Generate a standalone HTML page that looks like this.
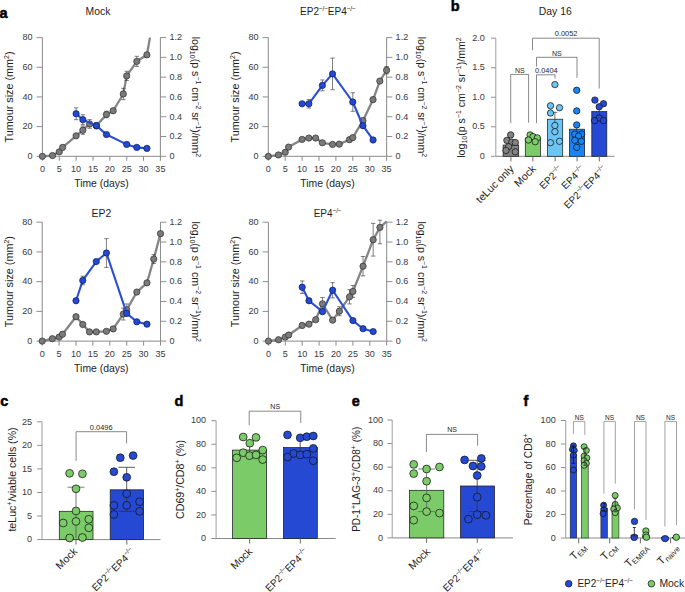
<!DOCTYPE html>
<html><head><meta charset="utf-8"><style>
html,body{margin:0;padding:0;background:#fff;overflow:hidden;}
svg{display:block;font-family:"Liberation Sans", sans-serif;}
</style></head><body>
<svg width="685" height="592" viewBox="0 0 685 592">
<rect width="685" height="592" fill="#fff"/>
<text x="-0.4" y="17.8" font-size="14.5" font-weight="bold" fill="#000" stroke="#000" stroke-width="0.5">a</text>
<text x="450.8" y="11" font-size="14.5" font-weight="bold" fill="#000" stroke="#000" stroke-width="0.5">b</text>
<text x="0.3" y="405.7" font-size="14.5" font-weight="bold" fill="#000" stroke="#000" stroke-width="0.5">c</text>
<text x="174.5" y="405.5" font-size="14.5" font-weight="bold" fill="#000" stroke="#000" stroke-width="0.5">d</text>
<text x="351.8" y="405.5" font-size="14.5" font-weight="bold" fill="#000" stroke="#000" stroke-width="0.5">e</text>
<text x="523.5" y="405.5" font-size="14.5" font-weight="bold" fill="#000" stroke="#000" stroke-width="0.5">f</text>
<text x="98.00" y="15.20" font-size="10.4" text-anchor="middle" fill="#1e1e1e">Mock</text>
<line x1="42.40" y1="37.60" x2="42.40" y2="156.30" stroke="#8e8e8e" stroke-width="1.05" />
<line x1="160.40" y1="37.60" x2="160.40" y2="156.30" stroke="#8e8e8e" stroke-width="1.05" />
<line x1="42.40" y1="156.30" x2="160.40" y2="156.30" stroke="#a2a2a2" stroke-width="1.2" />
<line x1="36.60" y1="156.30" x2="42.40" y2="156.30" stroke="#8e8e8e" stroke-width="1.0" />
<text x="0" y="0" font-size="8.8" text-anchor="end" fill="#3a3a3a" font-weight="normal" transform="translate(32.60 159.10) scale(1.03 1)" >0</text>
<line x1="36.60" y1="126.62" x2="42.40" y2="126.62" stroke="#8e8e8e" stroke-width="1.0" />
<text x="0" y="0" font-size="8.8" text-anchor="end" fill="#3a3a3a" font-weight="normal" transform="translate(32.60 129.43) scale(1.03 1)" >20</text>
<line x1="36.60" y1="96.95" x2="42.40" y2="96.95" stroke="#8e8e8e" stroke-width="1.0" />
<text x="0" y="0" font-size="8.8" text-anchor="end" fill="#3a3a3a" font-weight="normal" transform="translate(32.60 99.75) scale(1.03 1)" >40</text>
<line x1="36.60" y1="67.28" x2="42.40" y2="67.28" stroke="#8e8e8e" stroke-width="1.0" />
<text x="0" y="0" font-size="8.8" text-anchor="end" fill="#3a3a3a" font-weight="normal" transform="translate(32.60 70.08) scale(1.03 1)" >60</text>
<line x1="36.60" y1="37.60" x2="42.40" y2="37.60" stroke="#8e8e8e" stroke-width="1.0" />
<text x="0" y="0" font-size="8.8" text-anchor="end" fill="#3a3a3a" font-weight="normal" transform="translate(32.60 40.40) scale(1.03 1)" >80</text>
<line x1="160.40" y1="156.30" x2="166.20" y2="156.30" stroke="#8e8e8e" stroke-width="1.0" />
<text x="0" y="0" font-size="8.8" text-anchor="start" fill="#3a3a3a" font-weight="normal" transform="translate(169.40 159.10) scale(1.03 1)" >0</text>
<line x1="160.40" y1="136.52" x2="166.20" y2="136.52" stroke="#8e8e8e" stroke-width="1.0" />
<text x="0" y="0" font-size="8.8" text-anchor="start" fill="#3a3a3a" font-weight="normal" transform="translate(169.40 139.32) scale(1.03 1)" >0.2</text>
<line x1="160.40" y1="116.73" x2="166.20" y2="116.73" stroke="#8e8e8e" stroke-width="1.0" />
<text x="0" y="0" font-size="8.8" text-anchor="start" fill="#3a3a3a" font-weight="normal" transform="translate(169.40 119.53) scale(1.03 1)" >0.4</text>
<line x1="160.40" y1="96.95" x2="166.20" y2="96.95" stroke="#8e8e8e" stroke-width="1.0" />
<text x="0" y="0" font-size="8.8" text-anchor="start" fill="#3a3a3a" font-weight="normal" transform="translate(169.40 99.75) scale(1.03 1)" >0.6</text>
<line x1="160.40" y1="77.17" x2="166.20" y2="77.17" stroke="#8e8e8e" stroke-width="1.0" />
<text x="0" y="0" font-size="8.8" text-anchor="start" fill="#3a3a3a" font-weight="normal" transform="translate(169.40 79.97) scale(1.03 1)" >0.8</text>
<line x1="160.40" y1="57.38" x2="166.20" y2="57.38" stroke="#8e8e8e" stroke-width="1.0" />
<text x="0" y="0" font-size="8.8" text-anchor="start" fill="#3a3a3a" font-weight="normal" transform="translate(169.40 60.18) scale(1.03 1)" >1.0</text>
<line x1="160.40" y1="37.60" x2="166.20" y2="37.60" stroke="#8e8e8e" stroke-width="1.0" />
<text x="0" y="0" font-size="8.8" text-anchor="start" fill="#3a3a3a" font-weight="normal" transform="translate(169.40 40.40) scale(1.03 1)" >1.2</text>
<line x1="42.40" y1="156.30" x2="42.40" y2="160.80" stroke="#8a8a8a" stroke-width="1.0" />
<text x="0" y="0" font-size="8.8" text-anchor="middle" fill="#3a3a3a" font-weight="normal" transform="translate(42.40 171.80) scale(1.03 1)" >0</text>
<line x1="59.26" y1="156.30" x2="59.26" y2="160.80" stroke="#8a8a8a" stroke-width="1.0" />
<text x="0" y="0" font-size="8.8" text-anchor="middle" fill="#3a3a3a" font-weight="normal" transform="translate(59.26 171.80) scale(1.03 1)" >5</text>
<line x1="76.11" y1="156.30" x2="76.11" y2="160.80" stroke="#8a8a8a" stroke-width="1.0" />
<text x="0" y="0" font-size="8.8" text-anchor="middle" fill="#3a3a3a" font-weight="normal" transform="translate(76.11 171.80) scale(1.03 1)" >10</text>
<line x1="92.97" y1="156.30" x2="92.97" y2="160.80" stroke="#8a8a8a" stroke-width="1.0" />
<text x="0" y="0" font-size="8.8" text-anchor="middle" fill="#3a3a3a" font-weight="normal" transform="translate(92.97 171.80) scale(1.03 1)" >15</text>
<line x1="109.83" y1="156.30" x2="109.83" y2="160.80" stroke="#8a8a8a" stroke-width="1.0" />
<text x="0" y="0" font-size="8.8" text-anchor="middle" fill="#3a3a3a" font-weight="normal" transform="translate(109.83 171.80) scale(1.03 1)" >20</text>
<line x1="126.69" y1="156.30" x2="126.69" y2="160.80" stroke="#8a8a8a" stroke-width="1.0" />
<text x="0" y="0" font-size="8.8" text-anchor="middle" fill="#3a3a3a" font-weight="normal" transform="translate(126.69 171.80) scale(1.03 1)" >25</text>
<line x1="143.54" y1="156.30" x2="143.54" y2="160.80" stroke="#8a8a8a" stroke-width="1.0" />
<text x="0" y="0" font-size="8.8" text-anchor="middle" fill="#3a3a3a" font-weight="normal" transform="translate(143.54 171.80) scale(1.03 1)" >30</text>
<line x1="160.40" y1="156.30" x2="160.40" y2="160.80" stroke="#8a8a8a" stroke-width="1.0" />
<text x="0" y="0" font-size="8.8" text-anchor="middle" fill="#3a3a3a" font-weight="normal" transform="translate(160.40 171.80) scale(1.03 1)" >35</text>
<text x="0" y="0" font-size="10.4" text-anchor="middle" fill="#1e1e1e" font-weight="normal" transform="translate(101.40 187.40)" >Time (days)</text>
<text x="13.10" y="96.95" font-size="10.8" text-anchor="middle" fill="#1e1e1e" transform="rotate(-90 13.10 96.95)">Tumour size (mm<tspan font-size="7.0" baseline-shift="3.6">2</tspan>)</text>
<text x="192.00" y="96.95" font-size="10.6" text-anchor="middle" fill="#1e1e1e" transform="rotate(90 192.00 96.95)">log<tspan font-size="7" baseline-shift="-2.2">10</tspan>(p s<tspan font-size="7.0" baseline-shift="3.6">−1</tspan> cm<tspan font-size="7.0" baseline-shift="3.6">−2</tspan> sr<tspan font-size="7.0" baseline-shift="3.6">−1</tspan>)/mm<tspan font-size="7.0" baseline-shift="3.6">2</tspan></text>
<polyline points="42.40,156.30 52.51,155.56 59.26,151.85 62.63,147.40 76.11,135.82 82.86,130.19 89.60,123.95 96.34,125.88 106.46,114.46 113.20,110.75 123.31,93.98 126.69,75.88 136.80,61.34 146.91,54.81 149.95,37.60" fill="none" stroke="#858585" stroke-width="2.3" stroke-linejoin="round"/>
<path d="M82.86 126.03V134.34M80.66 126.03H85.06M80.66 134.34H85.06" stroke="#3a3a3a" stroke-width="0.65" fill="none"/>
<path d="M89.60 119.65V128.26M87.40 119.65H91.80M87.40 128.26H91.80" stroke="#3a3a3a" stroke-width="0.65" fill="none"/>
<path d="M106.46 111.19V117.72M104.26 111.19H108.66M104.26 117.72H108.66" stroke="#3a3a3a" stroke-width="0.65" fill="none"/>
<path d="M123.31 88.34V99.62M121.11 88.34H125.51M121.11 99.62H125.51" stroke="#3a3a3a" stroke-width="0.65" fill="none"/>
<path d="M126.69 71.28V80.48M124.49 71.28H128.89M124.49 80.48H128.89" stroke="#3a3a3a" stroke-width="0.65" fill="none"/>
<path d="M136.80 56.30V66.38M134.60 56.30H139.00M134.60 66.38H139.00" stroke="#3a3a3a" stroke-width="0.65" fill="none"/>
<path d="M146.91 52.59V57.04M144.71 52.59H149.11M144.71 57.04H149.11" stroke="#3a3a3a" stroke-width="0.65" fill="none"/>
<circle cx="42.40" cy="156.30" r="3.15" fill="#7a7a7a" stroke="#2e2e2e" stroke-width="0.7"/>
<circle cx="52.51" cy="155.56" r="3.15" fill="#7a7a7a" stroke="#2e2e2e" stroke-width="0.7"/>
<circle cx="59.26" cy="151.85" r="3.15" fill="#7a7a7a" stroke="#2e2e2e" stroke-width="0.7"/>
<circle cx="62.63" cy="147.40" r="3.15" fill="#7a7a7a" stroke="#2e2e2e" stroke-width="0.7"/>
<circle cx="76.11" cy="135.82" r="3.15" fill="#7a7a7a" stroke="#2e2e2e" stroke-width="0.7"/>
<circle cx="82.86" cy="130.19" r="3.15" fill="#7a7a7a" stroke="#2e2e2e" stroke-width="0.7"/>
<circle cx="89.60" cy="123.95" r="3.15" fill="#7a7a7a" stroke="#2e2e2e" stroke-width="0.7"/>
<circle cx="96.34" cy="125.88" r="3.15" fill="#7a7a7a" stroke="#2e2e2e" stroke-width="0.7"/>
<circle cx="106.46" cy="114.46" r="3.15" fill="#7a7a7a" stroke="#2e2e2e" stroke-width="0.7"/>
<circle cx="113.20" cy="110.75" r="3.15" fill="#7a7a7a" stroke="#2e2e2e" stroke-width="0.7"/>
<circle cx="123.31" cy="93.98" r="3.15" fill="#7a7a7a" stroke="#2e2e2e" stroke-width="0.7"/>
<circle cx="126.69" cy="75.88" r="3.15" fill="#7a7a7a" stroke="#2e2e2e" stroke-width="0.7"/>
<circle cx="136.80" cy="61.34" r="3.15" fill="#7a7a7a" stroke="#2e2e2e" stroke-width="0.7"/>
<circle cx="146.91" cy="54.81" r="3.15" fill="#7a7a7a" stroke="#2e2e2e" stroke-width="0.7"/>
<polyline points="76.11,113.77 82.86,119.70 96.34,125.64 106.46,134.54 126.69,144.43 136.80,147.40 146.91,148.39" fill="none" stroke="#2a4fd2" stroke-width="2.1" stroke-linejoin="round"/>
<path d="M76.11 107.83V119.70M73.91 107.83H78.31M73.91 119.70H78.31" stroke="#3a3a3a" stroke-width="0.65" fill="none"/>
<path d="M82.86 114.75V124.65M80.66 114.75H85.06M80.66 124.65H85.06" stroke="#3a3a3a" stroke-width="0.65" fill="none"/>
<path d="M96.34 122.67V128.60M94.14 122.67H98.54M94.14 128.60H98.54" stroke="#3a3a3a" stroke-width="0.65" fill="none"/>
<circle cx="76.11" cy="113.77" r="3.15" fill="#2349d3" stroke="#0c1a5c" stroke-width="0.7"/>
<circle cx="82.86" cy="119.70" r="3.15" fill="#2349d3" stroke="#0c1a5c" stroke-width="0.7"/>
<circle cx="96.34" cy="125.64" r="3.15" fill="#2349d3" stroke="#0c1a5c" stroke-width="0.7"/>
<circle cx="106.46" cy="134.54" r="3.15" fill="#2349d3" stroke="#0c1a5c" stroke-width="0.7"/>
<circle cx="126.69" cy="144.43" r="3.15" fill="#2349d3" stroke="#0c1a5c" stroke-width="0.7"/>
<circle cx="136.80" cy="147.40" r="3.15" fill="#2349d3" stroke="#0c1a5c" stroke-width="0.7"/>
<circle cx="146.91" cy="148.39" r="3.15" fill="#2349d3" stroke="#0c1a5c" stroke-width="0.7"/>
<text x="327.80" y="15.20" font-size="10.4" text-anchor="middle" fill="#1e1e1e"><tspan font-size="10.0">EP2</tspan><tspan font-size="6.6" baseline-shift="4.3" letter-spacing="-0.25">−/−</tspan><tspan font-size="10.0">EP4</tspan><tspan font-size="6.6" baseline-shift="4.3" letter-spacing="-0.25">−/−</tspan></text>
<line x1="268.30" y1="37.60" x2="268.30" y2="156.30" stroke="#8e8e8e" stroke-width="1.05" />
<line x1="386.60" y1="37.60" x2="386.60" y2="156.30" stroke="#8e8e8e" stroke-width="1.05" />
<line x1="268.30" y1="156.30" x2="386.60" y2="156.30" stroke="#a2a2a2" stroke-width="1.2" />
<line x1="262.50" y1="156.30" x2="268.30" y2="156.30" stroke="#8e8e8e" stroke-width="1.0" />
<text x="0" y="0" font-size="8.8" text-anchor="end" fill="#3a3a3a" font-weight="normal" transform="translate(258.50 159.10) scale(1.03 1)" >0</text>
<line x1="262.50" y1="126.62" x2="268.30" y2="126.62" stroke="#8e8e8e" stroke-width="1.0" />
<text x="0" y="0" font-size="8.8" text-anchor="end" fill="#3a3a3a" font-weight="normal" transform="translate(258.50 129.43) scale(1.03 1)" >20</text>
<line x1="262.50" y1="96.95" x2="268.30" y2="96.95" stroke="#8e8e8e" stroke-width="1.0" />
<text x="0" y="0" font-size="8.8" text-anchor="end" fill="#3a3a3a" font-weight="normal" transform="translate(258.50 99.75) scale(1.03 1)" >40</text>
<line x1="262.50" y1="67.28" x2="268.30" y2="67.28" stroke="#8e8e8e" stroke-width="1.0" />
<text x="0" y="0" font-size="8.8" text-anchor="end" fill="#3a3a3a" font-weight="normal" transform="translate(258.50 70.08) scale(1.03 1)" >60</text>
<line x1="262.50" y1="37.60" x2="268.30" y2="37.60" stroke="#8e8e8e" stroke-width="1.0" />
<text x="0" y="0" font-size="8.8" text-anchor="end" fill="#3a3a3a" font-weight="normal" transform="translate(258.50 40.40) scale(1.03 1)" >80</text>
<line x1="386.60" y1="156.30" x2="392.40" y2="156.30" stroke="#8e8e8e" stroke-width="1.0" />
<text x="0" y="0" font-size="8.8" text-anchor="start" fill="#3a3a3a" font-weight="normal" transform="translate(395.60 159.10) scale(1.03 1)" >0</text>
<line x1="386.60" y1="136.52" x2="392.40" y2="136.52" stroke="#8e8e8e" stroke-width="1.0" />
<text x="0" y="0" font-size="8.8" text-anchor="start" fill="#3a3a3a" font-weight="normal" transform="translate(395.60 139.32) scale(1.03 1)" >0.2</text>
<line x1="386.60" y1="116.73" x2="392.40" y2="116.73" stroke="#8e8e8e" stroke-width="1.0" />
<text x="0" y="0" font-size="8.8" text-anchor="start" fill="#3a3a3a" font-weight="normal" transform="translate(395.60 119.53) scale(1.03 1)" >0.4</text>
<line x1="386.60" y1="96.95" x2="392.40" y2="96.95" stroke="#8e8e8e" stroke-width="1.0" />
<text x="0" y="0" font-size="8.8" text-anchor="start" fill="#3a3a3a" font-weight="normal" transform="translate(395.60 99.75) scale(1.03 1)" >0.6</text>
<line x1="386.60" y1="77.17" x2="392.40" y2="77.17" stroke="#8e8e8e" stroke-width="1.0" />
<text x="0" y="0" font-size="8.8" text-anchor="start" fill="#3a3a3a" font-weight="normal" transform="translate(395.60 79.97) scale(1.03 1)" >0.8</text>
<line x1="386.60" y1="57.38" x2="392.40" y2="57.38" stroke="#8e8e8e" stroke-width="1.0" />
<text x="0" y="0" font-size="8.8" text-anchor="start" fill="#3a3a3a" font-weight="normal" transform="translate(395.60 60.18) scale(1.03 1)" >1.0</text>
<line x1="386.60" y1="37.60" x2="392.40" y2="37.60" stroke="#8e8e8e" stroke-width="1.0" />
<text x="0" y="0" font-size="8.8" text-anchor="start" fill="#3a3a3a" font-weight="normal" transform="translate(395.60 40.40) scale(1.03 1)" >1.2</text>
<line x1="268.30" y1="156.30" x2="268.30" y2="160.80" stroke="#8a8a8a" stroke-width="1.0" />
<text x="0" y="0" font-size="8.8" text-anchor="middle" fill="#3a3a3a" font-weight="normal" transform="translate(268.30 171.80) scale(1.03 1)" >0</text>
<line x1="285.20" y1="156.30" x2="285.20" y2="160.80" stroke="#8a8a8a" stroke-width="1.0" />
<text x="0" y="0" font-size="8.8" text-anchor="middle" fill="#3a3a3a" font-weight="normal" transform="translate(285.20 171.80) scale(1.03 1)" >5</text>
<line x1="302.10" y1="156.30" x2="302.10" y2="160.80" stroke="#8a8a8a" stroke-width="1.0" />
<text x="0" y="0" font-size="8.8" text-anchor="middle" fill="#3a3a3a" font-weight="normal" transform="translate(302.10 171.80) scale(1.03 1)" >10</text>
<line x1="319.00" y1="156.30" x2="319.00" y2="160.80" stroke="#8a8a8a" stroke-width="1.0" />
<text x="0" y="0" font-size="8.8" text-anchor="middle" fill="#3a3a3a" font-weight="normal" transform="translate(319.00 171.80) scale(1.03 1)" >15</text>
<line x1="335.90" y1="156.30" x2="335.90" y2="160.80" stroke="#8a8a8a" stroke-width="1.0" />
<text x="0" y="0" font-size="8.8" text-anchor="middle" fill="#3a3a3a" font-weight="normal" transform="translate(335.90 171.80) scale(1.03 1)" >20</text>
<line x1="352.80" y1="156.30" x2="352.80" y2="160.80" stroke="#8a8a8a" stroke-width="1.0" />
<text x="0" y="0" font-size="8.8" text-anchor="middle" fill="#3a3a3a" font-weight="normal" transform="translate(352.80 171.80) scale(1.03 1)" >25</text>
<line x1="369.70" y1="156.30" x2="369.70" y2="160.80" stroke="#8a8a8a" stroke-width="1.0" />
<text x="0" y="0" font-size="8.8" text-anchor="middle" fill="#3a3a3a" font-weight="normal" transform="translate(369.70 171.80) scale(1.03 1)" >30</text>
<line x1="386.60" y1="156.30" x2="386.60" y2="160.80" stroke="#8a8a8a" stroke-width="1.0" />
<text x="0" y="0" font-size="8.8" text-anchor="middle" fill="#3a3a3a" font-weight="normal" transform="translate(386.60 171.80) scale(1.03 1)" >35</text>
<text x="0" y="0" font-size="10.4" text-anchor="middle" fill="#1e1e1e" font-weight="normal" transform="translate(327.45 187.40)" >Time (days)</text>
<text x="239.00" y="96.95" font-size="10.8" text-anchor="middle" fill="#1e1e1e" transform="rotate(-90 239.00 96.95)">Tumour size (mm<tspan font-size="7.0" baseline-shift="3.6">2</tspan>)</text>
<text x="418.20" y="96.95" font-size="10.6" text-anchor="middle" fill="#1e1e1e" transform="rotate(90 418.20 96.95)">log<tspan font-size="7" baseline-shift="-2.2">10</tspan>(p s<tspan font-size="7.0" baseline-shift="3.6">−1</tspan> cm<tspan font-size="7.0" baseline-shift="3.6">−2</tspan> sr<tspan font-size="7.0" baseline-shift="3.6">−1</tspan>)/mm<tspan font-size="7.0" baseline-shift="3.6">2</tspan></text>
<polyline points="268.30,156.30 278.44,154.96 285.20,152.29 288.58,147.10 302.10,139.39 308.86,138.05 315.62,138.05 322.38,142.80 332.52,144.43 339.28,144.13 349.42,139.68 352.80,137.60 362.94,120.69 373.08,99.62 379.84,81.07 386.60,70.24" fill="none" stroke="#858585" stroke-width="2.3" stroke-linejoin="round"/>
<path d="M362.94 118.17V123.21M360.74 118.17H365.14M360.74 123.21H365.14" stroke="#3a3a3a" stroke-width="0.65" fill="none"/>
<path d="M386.60 66.53V73.95M384.40 66.53H388.80M384.40 73.95H388.80" stroke="#3a3a3a" stroke-width="0.65" fill="none"/>
<path d="M373.08 97.40V101.85M370.88 97.40H375.28M370.88 101.85H375.28" stroke="#3a3a3a" stroke-width="0.65" fill="none"/>
<circle cx="268.30" cy="156.30" r="3.15" fill="#7a7a7a" stroke="#2e2e2e" stroke-width="0.7"/>
<circle cx="278.44" cy="154.96" r="3.15" fill="#7a7a7a" stroke="#2e2e2e" stroke-width="0.7"/>
<circle cx="285.20" cy="152.29" r="3.15" fill="#7a7a7a" stroke="#2e2e2e" stroke-width="0.7"/>
<circle cx="288.58" cy="147.10" r="3.15" fill="#7a7a7a" stroke="#2e2e2e" stroke-width="0.7"/>
<circle cx="302.10" cy="139.39" r="3.15" fill="#7a7a7a" stroke="#2e2e2e" stroke-width="0.7"/>
<circle cx="308.86" cy="138.05" r="3.15" fill="#7a7a7a" stroke="#2e2e2e" stroke-width="0.7"/>
<circle cx="315.62" cy="138.05" r="3.15" fill="#7a7a7a" stroke="#2e2e2e" stroke-width="0.7"/>
<circle cx="322.38" cy="142.80" r="3.15" fill="#7a7a7a" stroke="#2e2e2e" stroke-width="0.7"/>
<circle cx="332.52" cy="144.43" r="3.15" fill="#7a7a7a" stroke="#2e2e2e" stroke-width="0.7"/>
<circle cx="339.28" cy="144.13" r="3.15" fill="#7a7a7a" stroke="#2e2e2e" stroke-width="0.7"/>
<circle cx="349.42" cy="139.68" r="3.15" fill="#7a7a7a" stroke="#2e2e2e" stroke-width="0.7"/>
<circle cx="352.80" cy="137.60" r="3.15" fill="#7a7a7a" stroke="#2e2e2e" stroke-width="0.7"/>
<circle cx="362.94" cy="120.69" r="3.15" fill="#7a7a7a" stroke="#2e2e2e" stroke-width="0.7"/>
<circle cx="373.08" cy="99.62" r="3.15" fill="#7a7a7a" stroke="#2e2e2e" stroke-width="0.7"/>
<circle cx="379.84" cy="81.07" r="3.15" fill="#7a7a7a" stroke="#2e2e2e" stroke-width="0.7"/>
<circle cx="386.60" cy="70.24" r="3.15" fill="#7a7a7a" stroke="#2e2e2e" stroke-width="0.7"/>
<polyline points="302.10,103.78 308.86,103.78 322.38,85.38 332.52,73.90 352.80,101.99 362.94,125.73 373.08,139.98" fill="none" stroke="#2a4fd2" stroke-width="2.1" stroke-linejoin="round"/>
<path d="M332.52 58.08V89.73M330.32 58.08H334.72M330.32 89.73H334.72" stroke="#3a3a3a" stroke-width="0.65" fill="none"/>
<path d="M322.38 79.94V90.82M320.18 79.94H324.58M320.18 90.82H324.58" stroke="#3a3a3a" stroke-width="0.65" fill="none"/>
<path d="M352.80 92.70V111.29M350.60 92.70H355.00M350.60 111.29H355.00" stroke="#3a3a3a" stroke-width="0.65" fill="none"/>
<path d="M308.86 99.52V108.03M306.66 99.52H311.06M306.66 108.03H311.06" stroke="#3a3a3a" stroke-width="0.65" fill="none"/>
<circle cx="302.10" cy="103.78" r="3.15" fill="#2349d3" stroke="#0c1a5c" stroke-width="0.7"/>
<circle cx="308.86" cy="103.78" r="3.15" fill="#2349d3" stroke="#0c1a5c" stroke-width="0.7"/>
<circle cx="322.38" cy="85.38" r="3.15" fill="#2349d3" stroke="#0c1a5c" stroke-width="0.7"/>
<circle cx="332.52" cy="73.90" r="3.15" fill="#2349d3" stroke="#0c1a5c" stroke-width="0.7"/>
<circle cx="352.80" cy="101.99" r="3.15" fill="#2349d3" stroke="#0c1a5c" stroke-width="0.7"/>
<circle cx="362.94" cy="125.73" r="3.15" fill="#2349d3" stroke="#0c1a5c" stroke-width="0.7"/>
<circle cx="373.08" cy="139.98" r="3.15" fill="#2349d3" stroke="#0c1a5c" stroke-width="0.7"/>
<text x="101.40" y="216.90" font-size="10.4" text-anchor="middle" fill="#1e1e1e">EP2</text>
<line x1="42.20" y1="222.20" x2="42.20" y2="341.10" stroke="#8e8e8e" stroke-width="1.05" />
<line x1="160.50" y1="222.20" x2="160.50" y2="341.10" stroke="#8e8e8e" stroke-width="1.05" />
<line x1="42.20" y1="341.10" x2="160.50" y2="341.10" stroke="#a2a2a2" stroke-width="1.2" />
<line x1="36.40" y1="341.10" x2="42.20" y2="341.10" stroke="#8e8e8e" stroke-width="1.0" />
<text x="0" y="0" font-size="8.8" text-anchor="end" fill="#3a3a3a" font-weight="normal" transform="translate(32.40 343.90) scale(1.03 1)" >0</text>
<line x1="36.40" y1="311.38" x2="42.20" y2="311.38" stroke="#8e8e8e" stroke-width="1.0" />
<text x="0" y="0" font-size="8.8" text-anchor="end" fill="#3a3a3a" font-weight="normal" transform="translate(32.40 314.18) scale(1.03 1)" >20</text>
<line x1="36.40" y1="281.65" x2="42.20" y2="281.65" stroke="#8e8e8e" stroke-width="1.0" />
<text x="0" y="0" font-size="8.8" text-anchor="end" fill="#3a3a3a" font-weight="normal" transform="translate(32.40 284.45) scale(1.03 1)" >40</text>
<line x1="36.40" y1="251.93" x2="42.20" y2="251.93" stroke="#8e8e8e" stroke-width="1.0" />
<text x="0" y="0" font-size="8.8" text-anchor="end" fill="#3a3a3a" font-weight="normal" transform="translate(32.40 254.73) scale(1.03 1)" >60</text>
<line x1="36.40" y1="222.20" x2="42.20" y2="222.20" stroke="#8e8e8e" stroke-width="1.0" />
<text x="0" y="0" font-size="8.8" text-anchor="end" fill="#3a3a3a" font-weight="normal" transform="translate(32.40 225.00) scale(1.03 1)" >80</text>
<line x1="160.50" y1="341.10" x2="166.30" y2="341.10" stroke="#8e8e8e" stroke-width="1.0" />
<text x="0" y="0" font-size="8.8" text-anchor="start" fill="#3a3a3a" font-weight="normal" transform="translate(169.50 343.90) scale(1.03 1)" >0</text>
<line x1="160.50" y1="321.28" x2="166.30" y2="321.28" stroke="#8e8e8e" stroke-width="1.0" />
<text x="0" y="0" font-size="8.8" text-anchor="start" fill="#3a3a3a" font-weight="normal" transform="translate(169.50 324.08) scale(1.03 1)" >0.2</text>
<line x1="160.50" y1="301.47" x2="166.30" y2="301.47" stroke="#8e8e8e" stroke-width="1.0" />
<text x="0" y="0" font-size="8.8" text-anchor="start" fill="#3a3a3a" font-weight="normal" transform="translate(169.50 304.27) scale(1.03 1)" >0.4</text>
<line x1="160.50" y1="281.65" x2="166.30" y2="281.65" stroke="#8e8e8e" stroke-width="1.0" />
<text x="0" y="0" font-size="8.8" text-anchor="start" fill="#3a3a3a" font-weight="normal" transform="translate(169.50 284.45) scale(1.03 1)" >0.6</text>
<line x1="160.50" y1="261.83" x2="166.30" y2="261.83" stroke="#8e8e8e" stroke-width="1.0" />
<text x="0" y="0" font-size="8.8" text-anchor="start" fill="#3a3a3a" font-weight="normal" transform="translate(169.50 264.63) scale(1.03 1)" >0.8</text>
<line x1="160.50" y1="242.02" x2="166.30" y2="242.02" stroke="#8e8e8e" stroke-width="1.0" />
<text x="0" y="0" font-size="8.8" text-anchor="start" fill="#3a3a3a" font-weight="normal" transform="translate(169.50 244.82) scale(1.03 1)" >1.0</text>
<line x1="160.50" y1="222.20" x2="166.30" y2="222.20" stroke="#8e8e8e" stroke-width="1.0" />
<text x="0" y="0" font-size="8.8" text-anchor="start" fill="#3a3a3a" font-weight="normal" transform="translate(169.50 225.00) scale(1.03 1)" >1.2</text>
<line x1="42.20" y1="341.10" x2="42.20" y2="345.60" stroke="#8a8a8a" stroke-width="1.0" />
<text x="0" y="0" font-size="8.8" text-anchor="middle" fill="#3a3a3a" font-weight="normal" transform="translate(42.20 357.10) scale(1.03 1)" >0</text>
<line x1="59.10" y1="341.10" x2="59.10" y2="345.60" stroke="#8a8a8a" stroke-width="1.0" />
<text x="0" y="0" font-size="8.8" text-anchor="middle" fill="#3a3a3a" font-weight="normal" transform="translate(59.10 357.10) scale(1.03 1)" >5</text>
<line x1="76.00" y1="341.10" x2="76.00" y2="345.60" stroke="#8a8a8a" stroke-width="1.0" />
<text x="0" y="0" font-size="8.8" text-anchor="middle" fill="#3a3a3a" font-weight="normal" transform="translate(76.00 357.10) scale(1.03 1)" >10</text>
<line x1="92.90" y1="341.10" x2="92.90" y2="345.60" stroke="#8a8a8a" stroke-width="1.0" />
<text x="0" y="0" font-size="8.8" text-anchor="middle" fill="#3a3a3a" font-weight="normal" transform="translate(92.90 357.10) scale(1.03 1)" >15</text>
<line x1="109.80" y1="341.10" x2="109.80" y2="345.60" stroke="#8a8a8a" stroke-width="1.0" />
<text x="0" y="0" font-size="8.8" text-anchor="middle" fill="#3a3a3a" font-weight="normal" transform="translate(109.80 357.10) scale(1.03 1)" >20</text>
<line x1="126.70" y1="341.10" x2="126.70" y2="345.60" stroke="#8a8a8a" stroke-width="1.0" />
<text x="0" y="0" font-size="8.8" text-anchor="middle" fill="#3a3a3a" font-weight="normal" transform="translate(126.70 357.10) scale(1.03 1)" >25</text>
<line x1="143.60" y1="341.10" x2="143.60" y2="345.60" stroke="#8a8a8a" stroke-width="1.0" />
<text x="0" y="0" font-size="8.8" text-anchor="middle" fill="#3a3a3a" font-weight="normal" transform="translate(143.60 357.10) scale(1.03 1)" >30</text>
<line x1="160.50" y1="341.10" x2="160.50" y2="345.60" stroke="#8a8a8a" stroke-width="1.0" />
<text x="0" y="0" font-size="8.8" text-anchor="middle" fill="#3a3a3a" font-weight="normal" transform="translate(160.50 357.10) scale(1.03 1)" >35</text>
<text x="0" y="0" font-size="10.4" text-anchor="middle" fill="#1e1e1e" font-weight="normal" transform="translate(101.35 371.80)" >Time (days)</text>
<text x="12.90" y="281.65" font-size="10.8" text-anchor="middle" fill="#1e1e1e" transform="rotate(-90 12.90 281.65)">Tumour size (mm<tspan font-size="7.0" baseline-shift="3.6">2</tspan>)</text>
<text x="192.10" y="281.65" font-size="10.6" text-anchor="middle" fill="#1e1e1e" transform="rotate(90 192.10 281.65)">log<tspan font-size="7" baseline-shift="-2.2">10</tspan>(p s<tspan font-size="7.0" baseline-shift="3.6">−1</tspan> cm<tspan font-size="7.0" baseline-shift="3.6">−2</tspan> sr<tspan font-size="7.0" baseline-shift="3.6">−1</tspan>)/mm<tspan font-size="7.0" baseline-shift="3.6">2</tspan></text>
<polyline points="42.20,341.10 52.34,338.72 59.10,337.09 62.48,334.26 76.00,316.73 82.76,324.45 89.52,331.89 96.28,331.89 106.42,331.29 113.18,328.91 123.32,314.05 126.70,309.89 136.84,292.05 146.98,282.84 153.74,259.06 160.50,233.64" fill="none" stroke="#858585" stroke-width="2.3" stroke-linejoin="round"/>
<path d="M123.32 308.11V320.00M121.12 308.11H125.52M121.12 320.00H125.52" stroke="#3a3a3a" stroke-width="0.65" fill="none"/>
<path d="M126.70 303.94V315.83M124.50 303.94H128.90M124.50 315.83H128.90" stroke="#3a3a3a" stroke-width="0.65" fill="none"/>
<path d="M153.74 254.60V263.52M151.54 254.60H155.94M151.54 263.52H155.94" stroke="#3a3a3a" stroke-width="0.65" fill="none"/>
<circle cx="42.20" cy="341.10" r="3.15" fill="#7a7a7a" stroke="#2e2e2e" stroke-width="0.7"/>
<circle cx="52.34" cy="338.72" r="3.15" fill="#7a7a7a" stroke="#2e2e2e" stroke-width="0.7"/>
<circle cx="59.10" cy="337.09" r="3.15" fill="#7a7a7a" stroke="#2e2e2e" stroke-width="0.7"/>
<circle cx="62.48" cy="334.26" r="3.15" fill="#7a7a7a" stroke="#2e2e2e" stroke-width="0.7"/>
<circle cx="76.00" cy="316.73" r="3.15" fill="#7a7a7a" stroke="#2e2e2e" stroke-width="0.7"/>
<circle cx="82.76" cy="324.45" r="3.15" fill="#7a7a7a" stroke="#2e2e2e" stroke-width="0.7"/>
<circle cx="89.52" cy="331.89" r="3.15" fill="#7a7a7a" stroke="#2e2e2e" stroke-width="0.7"/>
<circle cx="96.28" cy="331.89" r="3.15" fill="#7a7a7a" stroke="#2e2e2e" stroke-width="0.7"/>
<circle cx="106.42" cy="331.29" r="3.15" fill="#7a7a7a" stroke="#2e2e2e" stroke-width="0.7"/>
<circle cx="113.18" cy="328.91" r="3.15" fill="#7a7a7a" stroke="#2e2e2e" stroke-width="0.7"/>
<circle cx="123.32" cy="314.05" r="3.15" fill="#7a7a7a" stroke="#2e2e2e" stroke-width="0.7"/>
<circle cx="126.70" cy="309.89" r="3.15" fill="#7a7a7a" stroke="#2e2e2e" stroke-width="0.7"/>
<circle cx="136.84" cy="292.05" r="3.15" fill="#7a7a7a" stroke="#2e2e2e" stroke-width="0.7"/>
<circle cx="146.98" cy="282.84" r="3.15" fill="#7a7a7a" stroke="#2e2e2e" stroke-width="0.7"/>
<circle cx="153.74" cy="259.06" r="3.15" fill="#7a7a7a" stroke="#2e2e2e" stroke-width="0.7"/>
<circle cx="160.50" cy="233.64" r="3.15" fill="#7a7a7a" stroke="#2e2e2e" stroke-width="0.7"/>
<polyline points="76.00,300.77 82.76,280.46 96.28,261.54 106.42,253.01 126.70,313.36 136.84,321.78 146.98,324.16" fill="none" stroke="#2a4fd2" stroke-width="2.1" stroke-linejoin="round"/>
<path d="M106.42 238.65V267.38M104.22 238.65H108.62M104.22 267.38H108.62" stroke="#3a3a3a" stroke-width="0.65" fill="none"/>
<path d="M82.76 276.20V284.72M80.56 276.20H84.96M80.56 284.72H84.96" stroke="#3a3a3a" stroke-width="0.65" fill="none"/>
<circle cx="76.00" cy="300.77" r="3.15" fill="#2349d3" stroke="#0c1a5c" stroke-width="0.7"/>
<circle cx="82.76" cy="280.46" r="3.15" fill="#2349d3" stroke="#0c1a5c" stroke-width="0.7"/>
<circle cx="96.28" cy="261.54" r="3.15" fill="#2349d3" stroke="#0c1a5c" stroke-width="0.7"/>
<circle cx="106.42" cy="253.01" r="3.15" fill="#2349d3" stroke="#0c1a5c" stroke-width="0.7"/>
<circle cx="126.70" cy="313.36" r="3.15" fill="#2349d3" stroke="#0c1a5c" stroke-width="0.7"/>
<circle cx="136.84" cy="321.78" r="3.15" fill="#2349d3" stroke="#0c1a5c" stroke-width="0.7"/>
<circle cx="146.98" cy="324.16" r="3.15" fill="#2349d3" stroke="#0c1a5c" stroke-width="0.7"/>
<text x="327.50" y="216.90" font-size="10.4" text-anchor="middle" fill="#1e1e1e"><tspan font-size="10.0">EP4</tspan><tspan font-size="6.6" baseline-shift="4.3" letter-spacing="-0.25">−/−</tspan></text>
<line x1="268.40" y1="222.20" x2="268.40" y2="341.10" stroke="#8e8e8e" stroke-width="1.05" />
<line x1="386.70" y1="222.20" x2="386.70" y2="341.10" stroke="#8e8e8e" stroke-width="1.05" />
<line x1="268.40" y1="341.10" x2="386.70" y2="341.10" stroke="#a2a2a2" stroke-width="1.2" />
<line x1="262.60" y1="341.10" x2="268.40" y2="341.10" stroke="#8e8e8e" stroke-width="1.0" />
<text x="0" y="0" font-size="8.8" text-anchor="end" fill="#3a3a3a" font-weight="normal" transform="translate(258.60 343.90) scale(1.03 1)" >0</text>
<line x1="262.60" y1="311.38" x2="268.40" y2="311.38" stroke="#8e8e8e" stroke-width="1.0" />
<text x="0" y="0" font-size="8.8" text-anchor="end" fill="#3a3a3a" font-weight="normal" transform="translate(258.60 314.18) scale(1.03 1)" >20</text>
<line x1="262.60" y1="281.65" x2="268.40" y2="281.65" stroke="#8e8e8e" stroke-width="1.0" />
<text x="0" y="0" font-size="8.8" text-anchor="end" fill="#3a3a3a" font-weight="normal" transform="translate(258.60 284.45) scale(1.03 1)" >40</text>
<line x1="262.60" y1="251.93" x2="268.40" y2="251.93" stroke="#8e8e8e" stroke-width="1.0" />
<text x="0" y="0" font-size="8.8" text-anchor="end" fill="#3a3a3a" font-weight="normal" transform="translate(258.60 254.73) scale(1.03 1)" >60</text>
<line x1="262.60" y1="222.20" x2="268.40" y2="222.20" stroke="#8e8e8e" stroke-width="1.0" />
<text x="0" y="0" font-size="8.8" text-anchor="end" fill="#3a3a3a" font-weight="normal" transform="translate(258.60 225.00) scale(1.03 1)" >80</text>
<line x1="386.70" y1="341.10" x2="392.50" y2="341.10" stroke="#8e8e8e" stroke-width="1.0" />
<text x="0" y="0" font-size="8.8" text-anchor="start" fill="#3a3a3a" font-weight="normal" transform="translate(395.70 343.90) scale(1.03 1)" >0</text>
<line x1="386.70" y1="321.28" x2="392.50" y2="321.28" stroke="#8e8e8e" stroke-width="1.0" />
<text x="0" y="0" font-size="8.8" text-anchor="start" fill="#3a3a3a" font-weight="normal" transform="translate(395.70 324.08) scale(1.03 1)" >0.2</text>
<line x1="386.70" y1="301.47" x2="392.50" y2="301.47" stroke="#8e8e8e" stroke-width="1.0" />
<text x="0" y="0" font-size="8.8" text-anchor="start" fill="#3a3a3a" font-weight="normal" transform="translate(395.70 304.27) scale(1.03 1)" >0.4</text>
<line x1="386.70" y1="281.65" x2="392.50" y2="281.65" stroke="#8e8e8e" stroke-width="1.0" />
<text x="0" y="0" font-size="8.8" text-anchor="start" fill="#3a3a3a" font-weight="normal" transform="translate(395.70 284.45) scale(1.03 1)" >0.6</text>
<line x1="386.70" y1="261.83" x2="392.50" y2="261.83" stroke="#8e8e8e" stroke-width="1.0" />
<text x="0" y="0" font-size="8.8" text-anchor="start" fill="#3a3a3a" font-weight="normal" transform="translate(395.70 264.63) scale(1.03 1)" >0.8</text>
<line x1="386.70" y1="242.02" x2="392.50" y2="242.02" stroke="#8e8e8e" stroke-width="1.0" />
<text x="0" y="0" font-size="8.8" text-anchor="start" fill="#3a3a3a" font-weight="normal" transform="translate(395.70 244.82) scale(1.03 1)" >1.0</text>
<line x1="386.70" y1="222.20" x2="392.50" y2="222.20" stroke="#8e8e8e" stroke-width="1.0" />
<text x="0" y="0" font-size="8.8" text-anchor="start" fill="#3a3a3a" font-weight="normal" transform="translate(395.70 225.00) scale(1.03 1)" >1.2</text>
<line x1="268.40" y1="341.10" x2="268.40" y2="345.60" stroke="#8a8a8a" stroke-width="1.0" />
<text x="0" y="0" font-size="8.8" text-anchor="middle" fill="#3a3a3a" font-weight="normal" transform="translate(268.40 357.10) scale(1.03 1)" >0</text>
<line x1="285.30" y1="341.10" x2="285.30" y2="345.60" stroke="#8a8a8a" stroke-width="1.0" />
<text x="0" y="0" font-size="8.8" text-anchor="middle" fill="#3a3a3a" font-weight="normal" transform="translate(285.30 357.10) scale(1.03 1)" >5</text>
<line x1="302.20" y1="341.10" x2="302.20" y2="345.60" stroke="#8a8a8a" stroke-width="1.0" />
<text x="0" y="0" font-size="8.8" text-anchor="middle" fill="#3a3a3a" font-weight="normal" transform="translate(302.20 357.10) scale(1.03 1)" >10</text>
<line x1="319.10" y1="341.10" x2="319.10" y2="345.60" stroke="#8a8a8a" stroke-width="1.0" />
<text x="0" y="0" font-size="8.8" text-anchor="middle" fill="#3a3a3a" font-weight="normal" transform="translate(319.10 357.10) scale(1.03 1)" >15</text>
<line x1="336.00" y1="341.10" x2="336.00" y2="345.60" stroke="#8a8a8a" stroke-width="1.0" />
<text x="0" y="0" font-size="8.8" text-anchor="middle" fill="#3a3a3a" font-weight="normal" transform="translate(336.00 357.10) scale(1.03 1)" >20</text>
<line x1="352.90" y1="341.10" x2="352.90" y2="345.60" stroke="#8a8a8a" stroke-width="1.0" />
<text x="0" y="0" font-size="8.8" text-anchor="middle" fill="#3a3a3a" font-weight="normal" transform="translate(352.90 357.10) scale(1.03 1)" >25</text>
<line x1="369.80" y1="341.10" x2="369.80" y2="345.60" stroke="#8a8a8a" stroke-width="1.0" />
<text x="0" y="0" font-size="8.8" text-anchor="middle" fill="#3a3a3a" font-weight="normal" transform="translate(369.80 357.10) scale(1.03 1)" >30</text>
<line x1="386.70" y1="341.10" x2="386.70" y2="345.60" stroke="#8a8a8a" stroke-width="1.0" />
<text x="0" y="0" font-size="8.8" text-anchor="middle" fill="#3a3a3a" font-weight="normal" transform="translate(386.70 357.10) scale(1.03 1)" >35</text>
<text x="0" y="0" font-size="10.4" text-anchor="middle" fill="#1e1e1e" font-weight="normal" transform="translate(327.55 371.80)" >Time (days)</text>
<text x="239.10" y="281.65" font-size="10.8" text-anchor="middle" fill="#1e1e1e" transform="rotate(-90 239.10 281.65)">Tumour size (mm<tspan font-size="7.0" baseline-shift="3.6">2</tspan>)</text>
<text x="418.30" y="281.65" font-size="10.6" text-anchor="middle" fill="#1e1e1e" transform="rotate(90 418.30 281.65)">log<tspan font-size="7" baseline-shift="-2.2">10</tspan>(p s<tspan font-size="7.0" baseline-shift="3.6">−1</tspan> cm<tspan font-size="7.0" baseline-shift="3.6">−2</tspan> sr<tspan font-size="7.0" baseline-shift="3.6">−1</tspan>)/mm<tspan font-size="7.0" baseline-shift="3.6">2</tspan></text>
<polyline points="268.40,341.10 278.54,339.76 285.30,337.09 288.68,335.01 302.20,325.49 308.96,324.16 315.72,319.70 322.48,303.80 332.62,320.14 339.38,311.23 349.52,296.81 352.90,291.46 363.04,266.19 373.18,239.74 379.94,227.40 386.70,221.46" fill="none" stroke="#858585" stroke-width="2.3" stroke-linejoin="round"/>
<path d="M373.18 223.39V256.09M370.98 223.39H375.38M370.98 256.09H375.38" stroke="#3a3a3a" stroke-width="0.65" fill="none"/>
<path d="M379.94 220.20V243.75M377.74 220.20H382.14M377.74 243.75H382.14" stroke="#3a3a3a" stroke-width="0.65" fill="none"/>
<path d="M363.04 256.53V275.85M360.84 256.53H365.24M360.84 275.85H365.24" stroke="#3a3a3a" stroke-width="0.65" fill="none"/>
<path d="M349.52 289.68V303.94M347.32 289.68H351.72M347.32 303.94H351.72" stroke="#3a3a3a" stroke-width="0.65" fill="none"/>
<path d="M352.90 285.51V297.40M350.70 285.51H355.10M350.70 297.40H355.10" stroke="#3a3a3a" stroke-width="0.65" fill="none"/>
<path d="M322.48 297.55V310.04M320.28 297.55H324.68M320.28 310.04H324.68" stroke="#3a3a3a" stroke-width="0.65" fill="none"/>
<path d="M339.38 306.77V315.69M337.18 306.77H341.58M337.18 315.69H341.58" stroke="#3a3a3a" stroke-width="0.65" fill="none"/>
<circle cx="268.40" cy="341.10" r="3.15" fill="#7a7a7a" stroke="#2e2e2e" stroke-width="0.7"/>
<circle cx="278.54" cy="339.76" r="3.15" fill="#7a7a7a" stroke="#2e2e2e" stroke-width="0.7"/>
<circle cx="285.30" cy="337.09" r="3.15" fill="#7a7a7a" stroke="#2e2e2e" stroke-width="0.7"/>
<circle cx="288.68" cy="335.01" r="3.15" fill="#7a7a7a" stroke="#2e2e2e" stroke-width="0.7"/>
<circle cx="302.20" cy="325.49" r="3.15" fill="#7a7a7a" stroke="#2e2e2e" stroke-width="0.7"/>
<circle cx="308.96" cy="324.16" r="3.15" fill="#7a7a7a" stroke="#2e2e2e" stroke-width="0.7"/>
<circle cx="315.72" cy="319.70" r="3.15" fill="#7a7a7a" stroke="#2e2e2e" stroke-width="0.7"/>
<circle cx="322.48" cy="303.80" r="3.15" fill="#7a7a7a" stroke="#2e2e2e" stroke-width="0.7"/>
<circle cx="332.62" cy="320.14" r="3.15" fill="#7a7a7a" stroke="#2e2e2e" stroke-width="0.7"/>
<circle cx="339.38" cy="311.23" r="3.15" fill="#7a7a7a" stroke="#2e2e2e" stroke-width="0.7"/>
<circle cx="349.52" cy="296.81" r="3.15" fill="#7a7a7a" stroke="#2e2e2e" stroke-width="0.7"/>
<circle cx="352.90" cy="291.46" r="3.15" fill="#7a7a7a" stroke="#2e2e2e" stroke-width="0.7"/>
<circle cx="363.04" cy="266.19" r="3.15" fill="#7a7a7a" stroke="#2e2e2e" stroke-width="0.7"/>
<circle cx="373.18" cy="239.74" r="3.15" fill="#7a7a7a" stroke="#2e2e2e" stroke-width="0.7"/>
<circle cx="379.94" cy="227.40" r="3.15" fill="#7a7a7a" stroke="#2e2e2e" stroke-width="0.7"/>
<polyline points="302.20,287.20 308.96,300.77 322.48,311.67 332.62,290.27 352.90,320.59 363.04,328.71 373.18,331.59" fill="none" stroke="#2a4fd2" stroke-width="2.1" stroke-linejoin="round"/>
<path d="M302.20 280.96V293.44M300.00 280.96H304.40M300.00 293.44H304.40" stroke="#3a3a3a" stroke-width="0.65" fill="none"/>
<path d="M332.62 282.64V297.90M330.42 282.64H334.82M330.42 297.90H334.82" stroke="#3a3a3a" stroke-width="0.65" fill="none"/>
<circle cx="302.20" cy="287.20" r="3.15" fill="#2349d3" stroke="#0c1a5c" stroke-width="0.7"/>
<circle cx="308.96" cy="300.77" r="3.15" fill="#2349d3" stroke="#0c1a5c" stroke-width="0.7"/>
<circle cx="322.48" cy="311.67" r="3.15" fill="#2349d3" stroke="#0c1a5c" stroke-width="0.7"/>
<circle cx="332.62" cy="290.27" r="3.15" fill="#2349d3" stroke="#0c1a5c" stroke-width="0.7"/>
<circle cx="352.90" cy="320.59" r="3.15" fill="#2349d3" stroke="#0c1a5c" stroke-width="0.7"/>
<circle cx="363.04" cy="328.71" r="3.15" fill="#2349d3" stroke="#0c1a5c" stroke-width="0.7"/>
<circle cx="373.18" cy="331.59" r="3.15" fill="#2349d3" stroke="#0c1a5c" stroke-width="0.7"/>
<text x="555.3" y="15.2" font-size="10.4" text-anchor="middle" fill="#1e1e1e">Day 16</text>
<line x1="495.80" y1="38.20" x2="495.80" y2="156.30" stroke="#a6a6a6" stroke-width="1.1" />
<line x1="495.80" y1="156.30" x2="614.50" y2="156.30" stroke="#8a8a8a" stroke-width="1.0" />
<line x1="491.00" y1="156.30" x2="495.80" y2="156.30" stroke="#909090" stroke-width="1.0" />
<text x="0" y="0" font-size="8.8" text-anchor="end" fill="#3a3a3a" font-weight="normal" transform="translate(484.80 159.00) scale(1.03 1)" >0</text>
<line x1="491.00" y1="126.78" x2="495.80" y2="126.78" stroke="#909090" stroke-width="1.0" />
<text x="0" y="0" font-size="8.8" text-anchor="end" fill="#3a3a3a" font-weight="normal" transform="translate(484.80 129.47) scale(1.03 1)" >0.5</text>
<line x1="491.00" y1="97.25" x2="495.80" y2="97.25" stroke="#909090" stroke-width="1.0" />
<text x="0" y="0" font-size="8.8" text-anchor="end" fill="#3a3a3a" font-weight="normal" transform="translate(484.80 99.95) scale(1.03 1)" >1.0</text>
<line x1="491.00" y1="67.73" x2="495.80" y2="67.73" stroke="#909090" stroke-width="1.0" />
<text x="0" y="0" font-size="8.8" text-anchor="end" fill="#3a3a3a" font-weight="normal" transform="translate(484.80 70.43) scale(1.03 1)" >1.5</text>
<line x1="491.00" y1="38.20" x2="495.80" y2="38.20" stroke="#909090" stroke-width="1.0" />
<text x="0" y="0" font-size="8.8" text-anchor="end" fill="#3a3a3a" font-weight="normal" transform="translate(484.80 40.90) scale(1.03 1)" >2.0</text>
<rect x="503.10" y="145.08" width="15.60" height="11.22" fill="#838383" stroke="#1e1e1e" stroke-width="0.75"/>
<line x1="510.90" y1="156.30" x2="510.90" y2="161.30" stroke="#6a6a6a" stroke-width="1.0" />
<rect x="525.30" y="137.99" width="15.10" height="18.31" fill="#7bcb69" stroke="#1e1e1e" stroke-width="0.75"/>
<line x1="532.85" y1="156.30" x2="532.85" y2="161.30" stroke="#6a6a6a" stroke-width="1.0" />
<rect x="547.60" y="119.22" width="15.10" height="37.08" fill="#6cc5f3" stroke="#1e1e1e" stroke-width="0.75"/>
<line x1="555.15" y1="156.30" x2="555.15" y2="161.30" stroke="#6a6a6a" stroke-width="1.0" />
<rect x="569.50" y="129.20" width="15.10" height="27.10" fill="#1b84f3" stroke="#1e1e1e" stroke-width="0.75"/>
<line x1="577.05" y1="156.30" x2="577.05" y2="161.30" stroke="#6a6a6a" stroke-width="1.0" />
<rect x="591.80" y="111.60" width="15.00" height="44.70" fill="#2549d3" stroke="#1e1e1e" stroke-width="0.75"/>
<line x1="599.30" y1="156.30" x2="599.30" y2="161.30" stroke="#6a6a6a" stroke-width="1.0" />
<text x="464.5" y="97.5" font-size="10.6" text-anchor="middle" fill="#1e1e1e" transform="rotate(-90 464.5 97.5)">log<tspan font-size="7" baseline-shift="-2.2">10</tspan>(p s<tspan font-size="7.0" baseline-shift="3.6">−1</tspan> cm<tspan font-size="7.0" baseline-shift="3.6">−2</tspan> sr<tspan font-size="7.0" baseline-shift="3.6">−1</tspan>)/mm<tspan font-size="7.0" baseline-shift="3.6">2</tspan></text>
<text x="514.50" y="169.50" font-size="10.6" text-anchor="end" fill="#1e1e1e" transform="rotate(-45 514.50 169.50)">teLuc only</text>
<text x="536.50" y="169.50" font-size="10.6" text-anchor="end" fill="#1e1e1e" transform="rotate(-45 536.50 169.50)">Mock</text>
<text x="563.10" y="170.10" font-size="10.6" text-anchor="end" fill="#1e1e1e" transform="rotate(-45 563.10 170.10)"><tspan font-size="10.0">EP2</tspan><tspan font-size="6.6" baseline-shift="4.3" letter-spacing="-0.25">−/−</tspan></text>
<text x="585.10" y="170.10" font-size="10.6" text-anchor="end" fill="#1e1e1e" transform="rotate(-45 585.10 170.10)"><tspan font-size="10.0">EP4</tspan><tspan font-size="6.6" baseline-shift="4.3" letter-spacing="-0.25">−/−</tspan></text>
<text x="607.10" y="170.10" font-size="10.6" text-anchor="end" fill="#1e1e1e" transform="rotate(-45 607.10 170.10)"><tspan font-size="10.0">EP2</tspan><tspan font-size="6.6" baseline-shift="4.3" letter-spacing="-0.25">−/−</tspan><tspan font-size="10.0">EP4</tspan><tspan font-size="6.6" baseline-shift="4.3" letter-spacing="-0.25">−/−</tspan></text>
<path d="M510.70 123.10V74.40H528.60V122.70" fill="none" stroke="#6a6a6a" stroke-width="0.8"/>
<path d="M536.50 123.10V74.80H555.00V78.60" fill="none" stroke="#6a6a6a" stroke-width="0.8"/>
<path d="M536.50 66.60V57.30H577.00V77.90" fill="none" stroke="#6a6a6a" stroke-width="0.8"/>
<path d="M532.50 50.30V38.20H599.20V88.50" fill="none" stroke="#6a6a6a" stroke-width="0.8"/>
<text x="0" y="0" font-size="7" text-anchor="middle" fill="#1e1e1e" font-weight="normal" transform="translate(519.80 72.90)" >NS</text>
<text x="0" y="0" font-size="7" text-anchor="middle" fill="#1e1e1e" font-weight="normal" transform="translate(546.30 72.90) scale(1.06 1)" >0.0404</text>
<text x="0" y="0" font-size="7" text-anchor="middle" fill="#1e1e1e" font-weight="normal" transform="translate(556.90 55.90)" >NS</text>
<text x="0" y="0" font-size="7" text-anchor="middle" fill="#1e1e1e" font-weight="normal" transform="translate(566.10 36.40) scale(1.06 1)" >0.0052</text>
<path d="M554.90 112.30V126.00M552.40 112.30H557.40" stroke="#333" stroke-width="0.7" fill="none"/>
<path d="M599.20 106.80V118.00M596.70 106.80H601.70" stroke="#333" stroke-width="0.7" fill="none"/>
<path d="M576.70 124.90V134.00M574.20 124.90H579.20" stroke="#333" stroke-width="0.7" fill="none"/>
<circle cx="510.70" cy="134.90" r="3.2" fill="#838383" stroke="#161616" stroke-width="0.75"/>
<circle cx="506.90" cy="140.40" r="3.2" fill="#838383" stroke="#161616" stroke-width="0.75"/>
<circle cx="511.90" cy="142.10" r="3.2" fill="#838383" stroke="#161616" stroke-width="0.75"/>
<circle cx="515.30" cy="142.50" r="3.2" fill="#838383" stroke="#161616" stroke-width="0.75"/>
<circle cx="508.60" cy="146.70" r="3.2" fill="#838383" stroke="#161616" stroke-width="0.75"/>
<circle cx="506.00" cy="150.50" r="3.2" fill="#838383" stroke="#161616" stroke-width="0.75"/>
<circle cx="515.30" cy="151.80" r="3.2" fill="#838383" stroke="#161616" stroke-width="0.75"/>
<circle cx="530.10" cy="134.90" r="3.2" fill="#7bcb69" stroke="#161616" stroke-width="0.75"/>
<circle cx="533.00" cy="136.60" r="3.2" fill="#7bcb69" stroke="#161616" stroke-width="0.75"/>
<circle cx="537.30" cy="137.90" r="3.2" fill="#7bcb69" stroke="#161616" stroke-width="0.75"/>
<circle cx="528.40" cy="140.00" r="3.2" fill="#7bcb69" stroke="#161616" stroke-width="0.75"/>
<circle cx="535.20" cy="141.70" r="3.2" fill="#7bcb69" stroke="#161616" stroke-width="0.75"/>
<circle cx="554.90" cy="84.60" r="3.2" fill="#6cc5f3" stroke="#161616" stroke-width="0.75"/>
<circle cx="550.50" cy="105.80" r="3.2" fill="#6cc5f3" stroke="#161616" stroke-width="0.75"/>
<circle cx="559.50" cy="107.70" r="3.2" fill="#6cc5f3" stroke="#161616" stroke-width="0.75"/>
<circle cx="550.50" cy="113.00" r="3.2" fill="#6cc5f3" stroke="#161616" stroke-width="0.75"/>
<circle cx="554.90" cy="125.50" r="3.2" fill="#6cc5f3" stroke="#161616" stroke-width="0.75"/>
<circle cx="554.90" cy="131.70" r="3.2" fill="#6cc5f3" stroke="#161616" stroke-width="0.75"/>
<circle cx="550.50" cy="142.70" r="3.2" fill="#6cc5f3" stroke="#161616" stroke-width="0.75"/>
<circle cx="559.50" cy="141.30" r="3.2" fill="#6cc5f3" stroke="#161616" stroke-width="0.75"/>
<circle cx="576.70" cy="90.30" r="3.2" fill="#1b84f3" stroke="#161616" stroke-width="0.75"/>
<circle cx="576.70" cy="110.90" r="3.2" fill="#1b84f3" stroke="#161616" stroke-width="0.75"/>
<circle cx="576.70" cy="124.90" r="3.2" fill="#1b84f3" stroke="#161616" stroke-width="0.75"/>
<circle cx="574.80" cy="134.10" r="3.2" fill="#1b84f3" stroke="#161616" stroke-width="0.75"/>
<circle cx="581.70" cy="134.10" r="3.2" fill="#1b84f3" stroke="#161616" stroke-width="0.75"/>
<circle cx="578.60" cy="136.00" r="3.2" fill="#1b84f3" stroke="#161616" stroke-width="0.75"/>
<circle cx="574.80" cy="140.30" r="3.2" fill="#1b84f3" stroke="#161616" stroke-width="0.75"/>
<circle cx="581.40" cy="141.30" r="3.2" fill="#1b84f3" stroke="#161616" stroke-width="0.75"/>
<circle cx="576.70" cy="147.40" r="3.2" fill="#1b84f3" stroke="#161616" stroke-width="0.75"/>
<circle cx="594.90" cy="100.10" r="3.2" fill="#2549d3" stroke="#161616" stroke-width="0.75"/>
<circle cx="603.50" cy="103.70" r="3.2" fill="#2549d3" stroke="#161616" stroke-width="0.75"/>
<circle cx="599.20" cy="106.80" r="3.2" fill="#2549d3" stroke="#161616" stroke-width="0.75"/>
<circle cx="599.20" cy="118.00" r="3.2" fill="#2549d3" stroke="#161616" stroke-width="0.75"/>
<circle cx="594.60" cy="120.60" r="3.2" fill="#2549d3" stroke="#161616" stroke-width="0.75"/>
<circle cx="603.50" cy="120.60" r="3.2" fill="#2549d3" stroke="#161616" stroke-width="0.75"/>
<line x1="42.00" y1="421.80" x2="42.00" y2="539.60" stroke="#a6a6a6" stroke-width="1.1" />
<line x1="42.00" y1="539.60" x2="160.50" y2="539.60" stroke="#8a8a8a" stroke-width="1.0" />
<line x1="37.20" y1="539.60" x2="42.00" y2="539.60" stroke="#909090" stroke-width="1.0" />
<text x="0" y="0" font-size="8.8" text-anchor="end" fill="#3a3a3a" font-weight="normal" transform="translate(32.00 542.30) scale(1.03 1)" >0</text>
<line x1="37.20" y1="516.04" x2="42.00" y2="516.04" stroke="#909090" stroke-width="1.0" />
<text x="0" y="0" font-size="8.8" text-anchor="end" fill="#3a3a3a" font-weight="normal" transform="translate(32.00 518.74) scale(1.03 1)" >5</text>
<line x1="37.20" y1="492.48" x2="42.00" y2="492.48" stroke="#909090" stroke-width="1.0" />
<text x="0" y="0" font-size="8.8" text-anchor="end" fill="#3a3a3a" font-weight="normal" transform="translate(32.00 495.18) scale(1.03 1)" >10</text>
<line x1="37.20" y1="468.92" x2="42.00" y2="468.92" stroke="#909090" stroke-width="1.0" />
<text x="0" y="0" font-size="8.8" text-anchor="end" fill="#3a3a3a" font-weight="normal" transform="translate(32.00 471.62) scale(1.03 1)" >15</text>
<line x1="37.20" y1="445.36" x2="42.00" y2="445.36" stroke="#909090" stroke-width="1.0" />
<text x="0" y="0" font-size="8.8" text-anchor="end" fill="#3a3a3a" font-weight="normal" transform="translate(32.00 448.06) scale(1.03 1)" >20</text>
<line x1="37.20" y1="421.80" x2="42.00" y2="421.80" stroke="#909090" stroke-width="1.0" />
<text x="0" y="0" font-size="8.8" text-anchor="end" fill="#3a3a3a" font-weight="normal" transform="translate(32.00 424.50) scale(1.03 1)" >25</text>
<rect x="59.30" y="511.30" width="33.70" height="28.30" fill="#7bcb69" stroke="#1e1e1e" stroke-width="0.75"/>
<rect x="110.20" y="489.80" width="33.40" height="49.80" fill="#2549d3" stroke="#1e1e1e" stroke-width="0.75"/>
<line x1="76.00" y1="539.60" x2="76.00" y2="544.60" stroke="#6a6a6a" stroke-width="1.0" />
<line x1="126.80" y1="539.60" x2="126.80" y2="544.60" stroke="#6a6a6a" stroke-width="1.0" />
<path d="M76.00 487.20V538.00M67.60 487.20H84.40" stroke="#555" stroke-width="0.8" fill="none"/>
<path d="M126.70 467.30V511.30M118.40 467.30H135.00M118.40 511.30H135.00" stroke="#333" stroke-width="0.8" fill="none"/>
<circle cx="69.60" cy="473.30" r="3.9" fill="#7bcb69" stroke="#161616" stroke-width="0.75"/>
<circle cx="82.40" cy="473.80" r="3.9" fill="#7bcb69" stroke="#161616" stroke-width="0.75"/>
<circle cx="76.00" cy="488.80" r="3.9" fill="#7bcb69" stroke="#161616" stroke-width="0.75"/>
<circle cx="76.00" cy="511.00" r="3.9" fill="#7bcb69" stroke="#161616" stroke-width="0.75"/>
<circle cx="63.20" cy="523.00" r="3.9" fill="#7bcb69" stroke="#161616" stroke-width="0.75"/>
<circle cx="76.00" cy="521.40" r="3.9" fill="#7bcb69" stroke="#161616" stroke-width="0.75"/>
<circle cx="88.80" cy="519.30" r="3.9" fill="#7bcb69" stroke="#161616" stroke-width="0.75"/>
<circle cx="88.80" cy="527.80" r="3.9" fill="#7bcb69" stroke="#161616" stroke-width="0.75"/>
<circle cx="69.60" cy="538.00" r="3.9" fill="#7bcb69" stroke="#161616" stroke-width="0.75"/>
<circle cx="82.40" cy="537.50" r="3.9" fill="#7bcb69" stroke="#161616" stroke-width="0.75"/>
<circle cx="120.30" cy="457.70" r="3.9" fill="#2549d3" stroke="#161616" stroke-width="0.75"/>
<circle cx="133.10" cy="455.60" r="3.9" fill="#2549d3" stroke="#161616" stroke-width="0.75"/>
<circle cx="113.90" cy="471.70" r="3.9" fill="#2549d3" stroke="#161616" stroke-width="0.75"/>
<circle cx="126.70" cy="477.30" r="3.9" fill="#2549d3" stroke="#161616" stroke-width="0.75"/>
<circle cx="126.70" cy="493.70" r="3.9" fill="#2549d3" stroke="#161616" stroke-width="0.75"/>
<circle cx="113.90" cy="505.40" r="3.9" fill="#2549d3" stroke="#161616" stroke-width="0.75"/>
<circle cx="126.70" cy="505.40" r="3.9" fill="#2549d3" stroke="#161616" stroke-width="0.75"/>
<circle cx="139.60" cy="501.70" r="3.9" fill="#2549d3" stroke="#161616" stroke-width="0.75"/>
<circle cx="113.90" cy="514.50" r="3.9" fill="#2549d3" stroke="#161616" stroke-width="0.75"/>
<circle cx="139.60" cy="511.30" r="3.9" fill="#2549d3" stroke="#161616" stroke-width="0.75"/>
<path d="M76.10 460.90V431.70H126.60V443.40" fill="none" stroke="#6a6a6a" stroke-width="0.8"/>
<text x="0" y="0" font-size="7" text-anchor="middle" fill="#1e1e1e" font-weight="normal" transform="translate(101.20 429.80) scale(1.06 1)" >0.0496</text>
<text x="15.5" y="479.5" font-size="10.6" text-anchor="middle" fill="#1e1e1e" transform="rotate(-90 15.5 479.5)">teLuc<tspan font-size="7.0" baseline-shift="3.6">+</tspan>/viable cells (%)</text>
<text x="78.00" y="552.00" font-size="10.6" text-anchor="end" fill="#1e1e1e" transform="rotate(-45 78.00 552.00)">Mock</text>
<text x="135.10" y="552.60" font-size="10.6" text-anchor="end" fill="#1e1e1e" transform="rotate(-45 135.10 552.60)"><tspan font-size="10.0">EP2</tspan><tspan font-size="6.6" baseline-shift="4.3" letter-spacing="-0.25">−/−</tspan><tspan font-size="10.0">EP4</tspan><tspan font-size="6.6" baseline-shift="4.3" letter-spacing="-0.25">−/−</tspan></text>
<line x1="216.10" y1="420.70" x2="216.10" y2="538.50" stroke="#a6a6a6" stroke-width="1.1" />
<line x1="216.10" y1="538.50" x2="335.60" y2="538.50" stroke="#8a8a8a" stroke-width="1.0" />
<line x1="211.30" y1="538.50" x2="216.10" y2="538.50" stroke="#909090" stroke-width="1.0" />
<text x="0" y="0" font-size="8.8" text-anchor="end" fill="#3a3a3a" font-weight="normal" transform="translate(206.10 541.20) scale(1.03 1)" >0</text>
<line x1="211.30" y1="514.94" x2="216.10" y2="514.94" stroke="#909090" stroke-width="1.0" />
<text x="0" y="0" font-size="8.8" text-anchor="end" fill="#3a3a3a" font-weight="normal" transform="translate(206.10 517.64) scale(1.03 1)" >20</text>
<line x1="211.30" y1="491.38" x2="216.10" y2="491.38" stroke="#909090" stroke-width="1.0" />
<text x="0" y="0" font-size="8.8" text-anchor="end" fill="#3a3a3a" font-weight="normal" transform="translate(206.10 494.08) scale(1.03 1)" >40</text>
<line x1="211.30" y1="467.82" x2="216.10" y2="467.82" stroke="#909090" stroke-width="1.0" />
<text x="0" y="0" font-size="8.8" text-anchor="end" fill="#3a3a3a" font-weight="normal" transform="translate(206.10 470.52) scale(1.03 1)" >60</text>
<line x1="211.30" y1="444.26" x2="216.10" y2="444.26" stroke="#909090" stroke-width="1.0" />
<text x="0" y="0" font-size="8.8" text-anchor="end" fill="#3a3a3a" font-weight="normal" transform="translate(206.10 446.96) scale(1.03 1)" >80</text>
<line x1="211.30" y1="420.70" x2="216.10" y2="420.70" stroke="#909090" stroke-width="1.0" />
<text x="0" y="0" font-size="8.8" text-anchor="end" fill="#3a3a3a" font-weight="normal" transform="translate(206.10 423.40) scale(1.03 1)" >100</text>
<rect x="232.60" y="450.10" width="34.00" height="88.40" fill="#7bcb69" stroke="#1e1e1e" stroke-width="0.75"/>
<rect x="283.40" y="447.60" width="33.90" height="90.90" fill="#2549d3" stroke="#1e1e1e" stroke-width="0.75"/>
<line x1="249.60" y1="538.50" x2="249.60" y2="543.50" stroke="#6a6a6a" stroke-width="1.0" />
<line x1="300.30" y1="538.50" x2="300.30" y2="543.50" stroke="#6a6a6a" stroke-width="1.0" />
<path d="M249.60 443.20V457.00" stroke="#333" stroke-width="0.8" fill="none"/>
<path d="M300.20 437.60V457.00M296.20 437.60H304.20" stroke="#333" stroke-width="0.8" fill="none"/>
<circle cx="243.20" cy="437.00" r="3.9" fill="#7bcb69" stroke="#161616" stroke-width="0.75"/>
<circle cx="256.00" cy="437.40" r="3.9" fill="#7bcb69" stroke="#161616" stroke-width="0.75"/>
<circle cx="249.80" cy="443.20" r="3.9" fill="#7bcb69" stroke="#161616" stroke-width="0.75"/>
<circle cx="243.20" cy="452.70" r="3.9" fill="#7bcb69" stroke="#161616" stroke-width="0.75"/>
<circle cx="249.50" cy="455.70" r="3.9" fill="#7bcb69" stroke="#161616" stroke-width="0.75"/>
<circle cx="256.00" cy="454.90" r="3.9" fill="#7bcb69" stroke="#161616" stroke-width="0.75"/>
<circle cx="262.70" cy="450.10" r="3.9" fill="#7bcb69" stroke="#161616" stroke-width="0.75"/>
<circle cx="236.70" cy="457.80" r="3.9" fill="#7bcb69" stroke="#161616" stroke-width="0.75"/>
<circle cx="262.70" cy="459.60" r="3.9" fill="#7bcb69" stroke="#161616" stroke-width="0.75"/>
<circle cx="287.50" cy="434.90" r="3.9" fill="#2549d3" stroke="#161616" stroke-width="0.75"/>
<circle cx="300.20" cy="437.80" r="3.9" fill="#2549d3" stroke="#161616" stroke-width="0.75"/>
<circle cx="306.80" cy="436.70" r="3.9" fill="#2549d3" stroke="#161616" stroke-width="0.75"/>
<circle cx="313.30" cy="436.00" r="3.9" fill="#2549d3" stroke="#161616" stroke-width="0.75"/>
<circle cx="313.30" cy="448.40" r="3.9" fill="#2549d3" stroke="#161616" stroke-width="0.75"/>
<circle cx="293.60" cy="453.50" r="3.9" fill="#2549d3" stroke="#161616" stroke-width="0.75"/>
<circle cx="300.20" cy="454.90" r="3.9" fill="#2549d3" stroke="#161616" stroke-width="0.75"/>
<circle cx="306.80" cy="454.20" r="3.9" fill="#2549d3" stroke="#161616" stroke-width="0.75"/>
<circle cx="287.50" cy="457.10" r="3.9" fill="#2549d3" stroke="#161616" stroke-width="0.75"/>
<circle cx="313.30" cy="460.80" r="3.9" fill="#2549d3" stroke="#161616" stroke-width="0.75"/>
<path d="M249.20 425.20V411.20H300.80V423.10" fill="none" stroke="#6a6a6a" stroke-width="0.8"/>
<text x="0" y="0" font-size="7" text-anchor="middle" fill="#1e1e1e" font-weight="normal" transform="translate(275.20 408.50)" >NS</text>
<text x="184" y="479.5" font-size="10.6" text-anchor="middle" fill="#1e1e1e" transform="rotate(-90 184 479.5)">CD69<tspan font-size="7.0" baseline-shift="3.6">+</tspan>/CD8<tspan font-size="7.0" baseline-shift="3.6">+</tspan> (%)</text>
<text x="253.00" y="552.20" font-size="10.6" text-anchor="end" fill="#1e1e1e" transform="rotate(-45 253.00 552.20)">Mock</text>
<text x="308.60" y="553.00" font-size="10.6" text-anchor="end" fill="#1e1e1e" transform="rotate(-45 308.60 553.00)"><tspan font-size="10.0">EP2</tspan><tspan font-size="6.6" baseline-shift="4.3" letter-spacing="-0.25">−/−</tspan><tspan font-size="10.0">EP4</tspan><tspan font-size="6.6" baseline-shift="4.3" letter-spacing="-0.25">−/−</tspan></text>
<line x1="392.20" y1="420.00" x2="392.20" y2="537.90" stroke="#a6a6a6" stroke-width="1.1" />
<line x1="392.20" y1="537.90" x2="513.00" y2="537.90" stroke="#8a8a8a" stroke-width="1.0" />
<line x1="387.40" y1="537.90" x2="392.20" y2="537.90" stroke="#909090" stroke-width="1.0" />
<text x="0" y="0" font-size="8.8" text-anchor="end" fill="#3a3a3a" font-weight="normal" transform="translate(383.00 540.60) scale(1.03 1)" >0</text>
<line x1="387.40" y1="514.32" x2="392.20" y2="514.32" stroke="#909090" stroke-width="1.0" />
<text x="0" y="0" font-size="8.8" text-anchor="end" fill="#3a3a3a" font-weight="normal" transform="translate(383.00 517.02) scale(1.03 1)" >20</text>
<line x1="387.40" y1="490.74" x2="392.20" y2="490.74" stroke="#909090" stroke-width="1.0" />
<text x="0" y="0" font-size="8.8" text-anchor="end" fill="#3a3a3a" font-weight="normal" transform="translate(383.00 493.44) scale(1.03 1)" >40</text>
<line x1="387.40" y1="467.16" x2="392.20" y2="467.16" stroke="#909090" stroke-width="1.0" />
<text x="0" y="0" font-size="8.8" text-anchor="end" fill="#3a3a3a" font-weight="normal" transform="translate(383.00 469.86) scale(1.03 1)" >60</text>
<line x1="387.40" y1="443.58" x2="392.20" y2="443.58" stroke="#909090" stroke-width="1.0" />
<text x="0" y="0" font-size="8.8" text-anchor="end" fill="#3a3a3a" font-weight="normal" transform="translate(383.00 446.28) scale(1.03 1)" >80</text>
<line x1="387.40" y1="420.00" x2="392.20" y2="420.00" stroke="#909090" stroke-width="1.0" />
<text x="0" y="0" font-size="8.8" text-anchor="end" fill="#3a3a3a" font-weight="normal" transform="translate(383.00 422.70) scale(1.03 1)" >100</text>
<rect x="409.60" y="490.30" width="34.20" height="47.60" fill="#7bcb69" stroke="#1e1e1e" stroke-width="0.75"/>
<rect x="460.50" y="486.00" width="34.00" height="51.90" fill="#2549d3" stroke="#1e1e1e" stroke-width="0.75"/>
<line x1="426.60" y1="537.90" x2="426.60" y2="542.90" stroke="#6a6a6a" stroke-width="1.0" />
<line x1="477.30" y1="537.90" x2="477.30" y2="542.90" stroke="#6a6a6a" stroke-width="1.0" />
<path d="M426.60 469.00V511.60M418.20 469.00H435.00M418.20 511.60H435.00" stroke="#666" stroke-width="0.8" fill="none"/>
<path d="M477.20 460.30V511.60M468.80 460.30H485.60M468.80 511.60H485.60" stroke="#333" stroke-width="0.8" fill="none"/>
<circle cx="413.70" cy="464.40" r="3.9" fill="#7bcb69" stroke="#161616" stroke-width="0.75"/>
<circle cx="426.60" cy="469.00" r="3.9" fill="#7bcb69" stroke="#161616" stroke-width="0.75"/>
<circle cx="439.50" cy="467.00" r="3.9" fill="#7bcb69" stroke="#161616" stroke-width="0.75"/>
<circle cx="413.70" cy="473.60" r="3.9" fill="#7bcb69" stroke="#161616" stroke-width="0.75"/>
<circle cx="426.60" cy="481.20" r="3.9" fill="#7bcb69" stroke="#161616" stroke-width="0.75"/>
<circle cx="426.60" cy="497.90" r="3.9" fill="#7bcb69" stroke="#161616" stroke-width="0.75"/>
<circle cx="413.70" cy="505.90" r="3.9" fill="#7bcb69" stroke="#161616" stroke-width="0.75"/>
<circle cx="426.60" cy="511.60" r="3.9" fill="#7bcb69" stroke="#161616" stroke-width="0.75"/>
<circle cx="439.50" cy="513.10" r="3.9" fill="#7bcb69" stroke="#161616" stroke-width="0.75"/>
<circle cx="413.70" cy="520.20" r="3.9" fill="#7bcb69" stroke="#161616" stroke-width="0.75"/>
<circle cx="464.60" cy="459.90" r="3.9" fill="#2549d3" stroke="#161616" stroke-width="0.75"/>
<circle cx="481.30" cy="458.40" r="3.9" fill="#2549d3" stroke="#161616" stroke-width="0.75"/>
<circle cx="473.00" cy="466.00" r="3.9" fill="#2549d3" stroke="#161616" stroke-width="0.75"/>
<circle cx="481.30" cy="466.40" r="3.9" fill="#2549d3" stroke="#161616" stroke-width="0.75"/>
<circle cx="477.20" cy="475.50" r="3.9" fill="#2549d3" stroke="#161616" stroke-width="0.75"/>
<circle cx="477.20" cy="497.10" r="3.9" fill="#2549d3" stroke="#161616" stroke-width="0.75"/>
<circle cx="477.20" cy="514.60" r="3.9" fill="#2549d3" stroke="#161616" stroke-width="0.75"/>
<circle cx="468.40" cy="519.10" r="3.9" fill="#2549d3" stroke="#161616" stroke-width="0.75"/>
<circle cx="485.90" cy="515.30" r="3.9" fill="#2549d3" stroke="#161616" stroke-width="0.75"/>
<path d="M426.40 452.10V434.40H477.60V445.60" fill="none" stroke="#6a6a6a" stroke-width="0.8"/>
<text x="0" y="0" font-size="7" text-anchor="middle" fill="#1e1e1e" font-weight="normal" transform="translate(452.00 432.10)" >NS</text>
<text x="360.5" y="479.3" font-size="10" text-anchor="middle" fill="#1e1e1e" transform="rotate(-90 360.5 479.3)">PD-1<tspan font-size="7.0" baseline-shift="3.6">+</tspan>LAG-3<tspan font-size="7.0" baseline-shift="3.6">+</tspan>/CD8<tspan font-size="7.0" baseline-shift="3.6">+</tspan> (%)</text>
<text x="430.70" y="552.40" font-size="10.6" text-anchor="end" fill="#1e1e1e" transform="rotate(-45 430.70 552.40)">Mock</text>
<text x="486.30" y="553.00" font-size="10.6" text-anchor="end" fill="#1e1e1e" transform="rotate(-45 486.30 553.00)"><tspan font-size="10.0">EP2</tspan><tspan font-size="6.6" baseline-shift="4.3" letter-spacing="-0.25">−/−</tspan><tspan font-size="10.0">EP4</tspan><tspan font-size="6.6" baseline-shift="4.3" letter-spacing="-0.25">−/−</tspan></text>
<line x1="565.70" y1="420.50" x2="565.70" y2="538.00" stroke="#a6a6a6" stroke-width="1.1" />
<line x1="565.70" y1="538.00" x2="685.00" y2="538.00" stroke="#8a8a8a" stroke-width="1.0" />
<line x1="560.90" y1="538.00" x2="565.70" y2="538.00" stroke="#909090" stroke-width="1.0" />
<text x="0" y="0" font-size="8.8" text-anchor="end" fill="#3a3a3a" font-weight="normal" transform="translate(555.70 540.70) scale(1.03 1)" >0</text>
<line x1="560.90" y1="514.50" x2="565.70" y2="514.50" stroke="#909090" stroke-width="1.0" />
<text x="0" y="0" font-size="8.8" text-anchor="end" fill="#3a3a3a" font-weight="normal" transform="translate(555.70 517.20) scale(1.03 1)" >20</text>
<line x1="560.90" y1="491.00" x2="565.70" y2="491.00" stroke="#909090" stroke-width="1.0" />
<text x="0" y="0" font-size="8.8" text-anchor="end" fill="#3a3a3a" font-weight="normal" transform="translate(555.70 493.70) scale(1.03 1)" >40</text>
<line x1="560.90" y1="467.50" x2="565.70" y2="467.50" stroke="#909090" stroke-width="1.0" />
<text x="0" y="0" font-size="8.8" text-anchor="end" fill="#3a3a3a" font-weight="normal" transform="translate(555.70 470.20) scale(1.03 1)" >60</text>
<line x1="560.90" y1="444.00" x2="565.70" y2="444.00" stroke="#909090" stroke-width="1.0" />
<text x="0" y="0" font-size="8.8" text-anchor="end" fill="#3a3a3a" font-weight="normal" transform="translate(555.70 446.70) scale(1.03 1)" >80</text>
<line x1="560.90" y1="420.50" x2="565.70" y2="420.50" stroke="#909090" stroke-width="1.0" />
<text x="0" y="0" font-size="8.8" text-anchor="end" fill="#3a3a3a" font-weight="normal" transform="translate(555.70 423.20) scale(1.03 1)" >100</text>
<rect x="570.20" y="454.60" width="6.50" height="83.40" fill="#2549d3" stroke="#1e1e1e" stroke-width="0.6"/>
<rect x="581.30" y="457.00" width="6.90" height="81.00" fill="#7bcb69" stroke="#1e1e1e" stroke-width="0.6"/>
<line x1="578.70" y1="538.00" x2="578.70" y2="543.30" stroke="#6a6a6a" stroke-width="1.0" />
<rect x="600.90" y="508.00" width="6.50" height="30.00" fill="#2549d3" stroke="#1e1e1e" stroke-width="0.6"/>
<rect x="612.00" y="505.20" width="6.90" height="32.80" fill="#7bcb69" stroke="#1e1e1e" stroke-width="0.6"/>
<line x1="609.70" y1="538.00" x2="609.70" y2="543.30" stroke="#6a6a6a" stroke-width="1.0" />
<rect x="631.00" y="535.00" width="6.50" height="3.00" fill="#2549d3" stroke="#1e1e1e" stroke-width="0.6"/>
<rect x="642.50" y="536.00" width="6.80" height="2.00" fill="#7bcb69" stroke="#1e1e1e" stroke-width="0.6"/>
<line x1="640.40" y1="538.00" x2="640.40" y2="543.30" stroke="#6a6a6a" stroke-width="1.0" />
<rect x="661.50" y="537.60" width="6.50" height="0.40" fill="#2549d3" stroke="#1e1e1e" stroke-width="0.6"/>
<rect x="672.50" y="537.40" width="6.80" height="0.60" fill="#7bcb69" stroke="#1e1e1e" stroke-width="0.6"/>
<line x1="670.60" y1="538.00" x2="670.60" y2="543.30" stroke="#6a6a6a" stroke-width="1.0" />
<circle cx="573.40" cy="445.80" r="3.0" fill="#2549d3" stroke="#161616" stroke-width="0.75"/>
<circle cx="572.40" cy="449.50" r="3.0" fill="#2549d3" stroke="#161616" stroke-width="0.75"/>
<circle cx="574.30" cy="450.40" r="3.0" fill="#2549d3" stroke="#161616" stroke-width="0.75"/>
<circle cx="573.40" cy="455.10" r="3.0" fill="#2549d3" stroke="#161616" stroke-width="0.75"/>
<circle cx="573.40" cy="470.00" r="3.0" fill="#2549d3" stroke="#161616" stroke-width="0.75"/>
<path d="M573.40 445.80V463.40M571.60 445.80H575.20M571.60 463.40H575.20" stroke="#111" stroke-width="0.7" fill="none"/>
<circle cx="584.10" cy="446.70" r="3.0" fill="#7bcb69" stroke="#161616" stroke-width="0.75"/>
<circle cx="586.40" cy="450.40" r="3.0" fill="#7bcb69" stroke="#161616" stroke-width="0.75"/>
<circle cx="584.10" cy="456.00" r="3.0" fill="#7bcb69" stroke="#161616" stroke-width="0.75"/>
<circle cx="586.90" cy="457.90" r="3.0" fill="#7bcb69" stroke="#161616" stroke-width="0.75"/>
<circle cx="584.10" cy="460.70" r="3.0" fill="#7bcb69" stroke="#161616" stroke-width="0.75"/>
<circle cx="586.40" cy="463.40" r="3.0" fill="#7bcb69" stroke="#161616" stroke-width="0.75"/>
<circle cx="584.10" cy="465.30" r="3.0" fill="#7bcb69" stroke="#161616" stroke-width="0.75"/>
<path d="M585.00 448.60V465.30M583.20 448.60H586.80M583.20 465.30H586.80" stroke="#222" stroke-width="0.7" fill="none"/>
<circle cx="603.60" cy="505.20" r="3.0" fill="#2549d3" stroke="#161616" stroke-width="0.75"/>
<circle cx="604.00" cy="509.90" r="3.0" fill="#2549d3" stroke="#161616" stroke-width="0.75"/>
<circle cx="603.10" cy="513.60" r="3.0" fill="#2549d3" stroke="#161616" stroke-width="0.75"/>
<path d="M604.00 503.00V511.00M602.20 503.00H605.80M602.20 511.00H605.80" stroke="#111" stroke-width="0.7" fill="none"/>
<circle cx="615.20" cy="495.40" r="3.0" fill="#7bcb69" stroke="#161616" stroke-width="0.75"/>
<circle cx="615.20" cy="504.30" r="3.0" fill="#7bcb69" stroke="#161616" stroke-width="0.75"/>
<circle cx="617.40" cy="508.00" r="3.0" fill="#7bcb69" stroke="#161616" stroke-width="0.75"/>
<circle cx="613.70" cy="509.00" r="3.0" fill="#7bcb69" stroke="#161616" stroke-width="0.75"/>
<circle cx="615.20" cy="512.70" r="3.0" fill="#7bcb69" stroke="#161616" stroke-width="0.75"/>
<path d="M615.20 498.70V511.70M613.40 498.70H617.00M613.40 511.70H617.00" stroke="#222" stroke-width="0.7" fill="none"/>
<circle cx="634.50" cy="521.40" r="3.2" fill="#2549d3" stroke="#161616" stroke-width="0.75"/>
<circle cx="634.20" cy="537.40" r="3.2" fill="#2549d3" stroke="#161616" stroke-width="0.75"/>
<path d="M634.30 527.50V537.00M632.80 527.50H635.80" stroke="#111" stroke-width="0.8" fill="none"/>
<circle cx="645.90" cy="531.00" r="3.2" fill="#7bcb69" stroke="#161616" stroke-width="0.75"/>
<circle cx="645.90" cy="535.10" r="3.2" fill="#7bcb69" stroke="#161616" stroke-width="0.75"/>
<circle cx="646.40" cy="537.20" r="3.2" fill="#7bcb69" stroke="#161616" stroke-width="0.75"/>
<ellipse cx="665.1" cy="538.6" rx="3.6" ry="3.1" fill="#2549d3" stroke="#161616" stroke-width="0.75"/>
<circle cx="676.30" cy="537.20" r="3.2" fill="#7bcb69" stroke="#161616" stroke-width="0.75"/>
<path d="M573.40 434.00V421.40H584.80V434.80" fill="none" stroke="#8c8c8c" stroke-width="0.8"/>
<path d="M603.90 493.60V421.40H615.30V483.70" fill="none" stroke="#8c8c8c" stroke-width="0.8"/>
<path d="M634.50 509.30V421.40H646.00V519.90" fill="none" stroke="#8c8c8c" stroke-width="0.8"/>
<path d="M664.90 526.50V421.40H676.50V525.00" fill="none" stroke="#8c8c8c" stroke-width="0.8"/>
<text x="0" y="0" font-size="6.5" text-anchor="middle" fill="#1e1e1e" font-weight="normal" transform="translate(579.30 420.10)" >NS</text>
<text x="0" y="0" font-size="6.5" text-anchor="middle" fill="#1e1e1e" font-weight="normal" transform="translate(609.50 420.10)" >NS</text>
<text x="0" y="0" font-size="6.5" text-anchor="middle" fill="#1e1e1e" font-weight="normal" transform="translate(640.40 420.10)" >NS</text>
<text x="0" y="0" font-size="6.5" text-anchor="middle" fill="#1e1e1e" font-weight="normal" transform="translate(670.60 420.10)" >NS</text>
<text x="532.5" y="479.3" font-size="10.3" text-anchor="middle" fill="#1e1e1e" transform="rotate(-90 532.5 479.3)">Percentage of CD8<tspan font-size="7.0" baseline-shift="3.6">+</tspan></text>
<circle cx="568.70" cy="583.70" r="3.3" fill="#2549d3" stroke="#161616" stroke-width="0.75"/>
<text x="577.4" y="587" font-size="10.4" fill="#1e1e1e"><tspan font-size="10.0">EP2</tspan><tspan font-size="6.6" baseline-shift="4.3" letter-spacing="-0.25">−/−</tspan><tspan font-size="10.0">EP4</tspan><tspan font-size="6.6" baseline-shift="4.3" letter-spacing="-0.25">−/−</tspan></text>
<circle cx="651.40" cy="583.70" r="3.3" fill="#7bcb69" stroke="#161616" stroke-width="0.75"/>
<text x="659.4" y="587" font-size="10.4" fill="#1e1e1e">Mock</text>
<text x="587.00" y="548.00" font-size="11" text-anchor="end" fill="#1e1e1e" transform="rotate(-45 587.00 548.00)">T<tspan font-size="7.5" baseline-shift="-30%">EM</tspan></text>
<text x="618.00" y="548.00" font-size="11" text-anchor="end" fill="#1e1e1e" transform="rotate(-45 618.00 548.00)">T<tspan font-size="7.5" baseline-shift="-30%">CM</tspan></text>
<text x="649.00" y="548.00" font-size="11" text-anchor="end" fill="#1e1e1e" transform="rotate(-45 649.00 548.00)">T<tspan font-size="7.5" baseline-shift="-30%">EMRA</tspan></text>
<text x="679.00" y="548.00" font-size="11" text-anchor="end" fill="#1e1e1e" transform="rotate(-45 679.00 548.00)">T<tspan font-size="7.5" baseline-shift="-30%">naive</tspan></text>
</svg></body></html>
